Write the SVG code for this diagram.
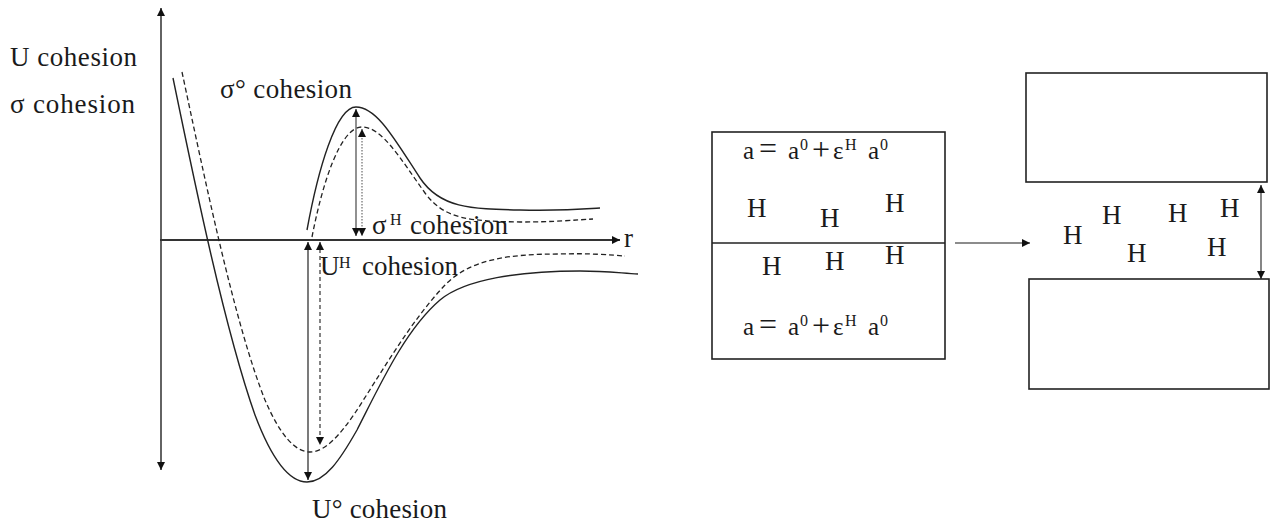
<svg xmlns="http://www.w3.org/2000/svg" width="1270" height="524" viewBox="0 0 1270 524" font-family="'Liberation Serif', 'Times New Roman', serif">
<style>
text{font-family:'Liberation Serif','Times New Roman',serif;fill:#1a1a1a}
.lbl{font-size:27px}
.sup{font-size:16px}
.h{font-size:27px}
.f{font-size:25px}
.op{font-size:32px}
.ln{fill:none;stroke:#222;stroke-width:1.4}
.dash{fill:none;stroke:#222;stroke-width:1.3;stroke-dasharray:5,3}
.box{fill:#fff;stroke:#222;stroke-width:1.6}
</style>
<defs>
<marker id="ah" viewBox="0 0 10 10" refX="10" refY="5" markerWidth="9" markerHeight="8" markerUnits="userSpaceOnUse" orient="auto-start-reverse">
<path d="M0,0 L10,5 L0,10 z" fill="#111"/>
</marker>
</defs>
<g id="axes">
<line x1="161" y1="470" x2="161" y2="8" class="ln" marker-start="url(#ah)" marker-end="url(#ah)"/>
<line x1="160" y1="240" x2="620" y2="240" stroke="#333" stroke-width="1.8" marker-end="url(#ah)"/>
<text x="624" y="247" class="lbl">r</text>
</g>
<g id="curves">
<path class="ln" d="M173,78 C195,185 225,330 255,415 C272,460 290,482 307,482 C325,482 340,460 357,430 C380,385 405,330 440,300 C465,279 520,271 580,271 C605,271 620,273 638,274"/>
<path class="dash" d="M182,72 C205,180 235,325 265,400 C280,435 295,452 310,452 C325,452 340,435 355,413 C380,375 410,322 445,285 C470,259 510,254 560,254 C590,253 610,255 625,256"/>
<path class="ln" d="M307,230 C318,170 336,107 356,107 C377,107 395,140 420,178 C440,208 470,209 520,210 C560,211 585,209 600,208"/>
<path class="dash" d="M312,237 C322,185 340,127 362,127 C382,127 400,158 425,193 C445,220 470,221 520,222 C555,222 575,220 593,219"/>
</g>
<g id="connectors">
<line x1="356" y1="109" x2="356" y2="236" stroke="#555" stroke-width="1.3" marker-start="url(#ah)" marker-end="url(#ah)"/>
<line x1="362" y1="129" x2="362" y2="236" stroke="#777" stroke-width="1.3" stroke-dasharray="1.5,1.5" marker-start="url(#ah)" marker-end="url(#ah)"/>
<line x1="308" y1="242" x2="308" y2="480" stroke="#333" stroke-width="1.3" marker-start="url(#ah)" marker-end="url(#ah)"/>
<line x1="320" y1="242" x2="320" y2="445" stroke="#333" stroke-width="1.2" stroke-dasharray="4,3" marker-start="url(#ah)" marker-end="url(#ah)"/>
<line x1="955" y1="243" x2="1030" y2="243" stroke="#666" stroke-width="1.3" marker-end="url(#ah)"/>
<line x1="1261" y1="185" x2="1261" y2="279" stroke="#444" stroke-width="1.3" marker-start="url(#ah)" marker-end="url(#ah)"/>
</g>
<g id="labels">
<text x="10" y="66" class="lbl" textLength="127" lengthAdjust="spacing">U cohesion</text>
<text x="10" y="113" class="lbl" textLength="125" lengthAdjust="spacing">σ cohesion</text>
<text x="220" y="98" class="lbl" textLength="132" lengthAdjust="spacing">σ° cohesion</text>
<text x="372" y="234" class="lbl">σ</text>
<text x="390" y="225" class="sup">H</text>
<text x="410" y="234" class="lbl" textLength="98" lengthAdjust="spacing">cohesion</text>
<text x="320" y="275" class="lbl">U</text>
<text x="339" y="268" class="sup">H</text>
<text x="362" y="275" class="lbl" textLength="96" lengthAdjust="spacing">cohesion</text>
<text x="312" y="518" class="lbl" textLength="135" lengthAdjust="spacing">U° cohesion</text>
</g>
<g id="specimen">
<rect x="712" y="132" width="233" height="227" class="box"/>
<line x1="712" y1="243" x2="945" y2="243" stroke="#222" stroke-width="1.6"/>
<text class="f" y="159"><tspan x="743">a</tspan><tspan x="759" class="op">=</tspan><tspan x="788">a</tspan><tspan x="800" y="150" class="sup">0</tspan><tspan x="812" y="160" class="op">+</tspan><tspan x="833" y="159">ε</tspan><tspan x="845" y="150" class="sup">H</tspan><tspan x="868" y="159">a</tspan><tspan x="880" y="150" class="sup">0</tspan></text>
<text class="f" y="335"><tspan x="743">a</tspan><tspan x="759" class="op">=</tspan><tspan x="788">a</tspan><tspan x="800" y="326" class="sup">0</tspan><tspan x="812" y="336" class="op">+</tspan><tspan x="833" y="335">ε</tspan><tspan x="845" y="326" class="sup">H</tspan><tspan x="868" y="335">a</tspan><tspan x="880" y="326" class="sup">0</tspan></text>
<text x="747" y="217" class="h">H</text>
<text x="820" y="227" class="h">H</text>
<text x="885" y="212" class="h">H</text>
<text x="762" y="275" class="h">H</text>
<text x="825" y="270" class="h">H</text>
<text x="885" y="264" class="h">H</text>
</g>
<g id="separated">
<rect x="1026" y="73" width="241" height="109" class="box"/>
<rect x="1029" y="279" width="240" height="110" class="box"/>
<text x="1063" y="244" class="h">H</text>
<text x="1102" y="224" class="h">H</text>
<text x="1127" y="262" class="h">H</text>
<text x="1168" y="222" class="h">H</text>
<text x="1207" y="256" class="h">H</text>
<text x="1220" y="217" class="h">H</text>
</g>
</svg>
